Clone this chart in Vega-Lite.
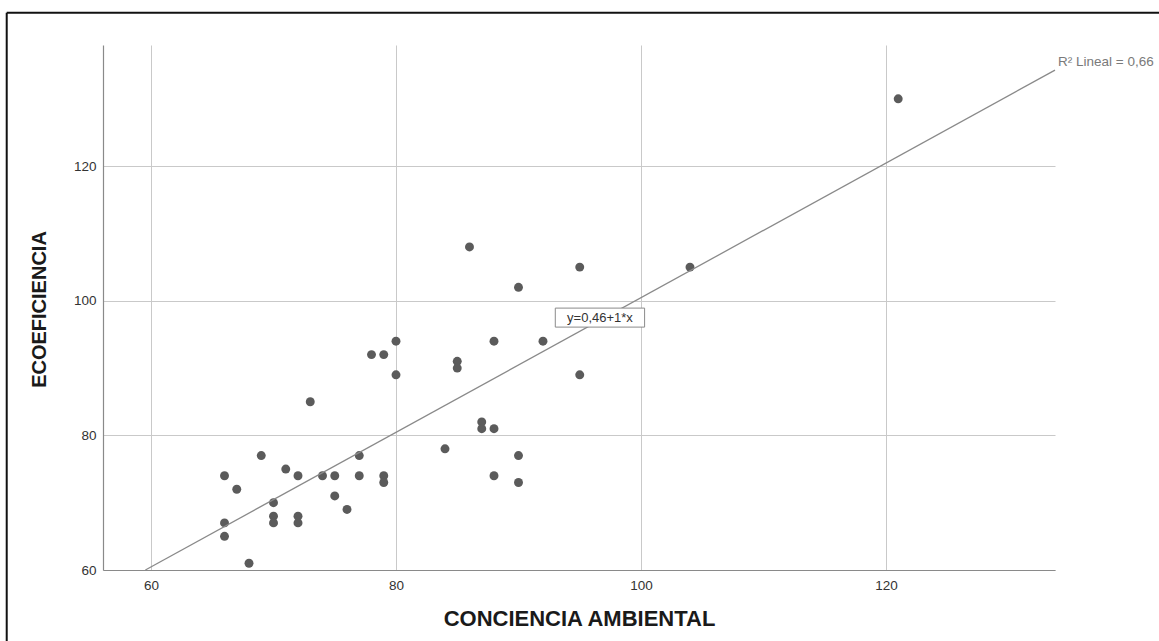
{
  "$schema": "https://vega.github.io/schema/vega-lite/v6.json",
  "width": 952,
  "height": 525,
  "autosize": {"type": "none"},
  "padding": {"left": 103, "top": 45, "right": 104, "bottom": 71},
  "background": "white",
  "config": {
    "view": {"stroke": null},
    "font": "Liberation Sans"
  },
  "datasets": {
    "muestra": [
      {"conciencia": 66, "ecoeficiencia": 74},
      {"conciencia": 66, "ecoeficiencia": 67},
      {"conciencia": 66, "ecoeficiencia": 65},
      {"conciencia": 67, "ecoeficiencia": 72},
      {"conciencia": 68, "ecoeficiencia": 61},
      {"conciencia": 69, "ecoeficiencia": 77},
      {"conciencia": 70, "ecoeficiencia": 70},
      {"conciencia": 70, "ecoeficiencia": 68},
      {"conciencia": 70, "ecoeficiencia": 67},
      {"conciencia": 71, "ecoeficiencia": 75},
      {"conciencia": 72, "ecoeficiencia": 74},
      {"conciencia": 72, "ecoeficiencia": 68},
      {"conciencia": 72, "ecoeficiencia": 67},
      {"conciencia": 73, "ecoeficiencia": 85},
      {"conciencia": 74, "ecoeficiencia": 74},
      {"conciencia": 75, "ecoeficiencia": 74},
      {"conciencia": 75, "ecoeficiencia": 71},
      {"conciencia": 76, "ecoeficiencia": 69},
      {"conciencia": 77, "ecoeficiencia": 77},
      {"conciencia": 77, "ecoeficiencia": 74},
      {"conciencia": 78, "ecoeficiencia": 92},
      {"conciencia": 79, "ecoeficiencia": 92},
      {"conciencia": 79, "ecoeficiencia": 74},
      {"conciencia": 79, "ecoeficiencia": 73},
      {"conciencia": 80, "ecoeficiencia": 94},
      {"conciencia": 80, "ecoeficiencia": 89},
      {"conciencia": 84, "ecoeficiencia": 78},
      {"conciencia": 85, "ecoeficiencia": 91},
      {"conciencia": 85, "ecoeficiencia": 90},
      {"conciencia": 86, "ecoeficiencia": 108},
      {"conciencia": 87, "ecoeficiencia": 82},
      {"conciencia": 87, "ecoeficiencia": 81},
      {"conciencia": 88, "ecoeficiencia": 94},
      {"conciencia": 88, "ecoeficiencia": 81},
      {"conciencia": 88, "ecoeficiencia": 74},
      {"conciencia": 90, "ecoeficiencia": 102},
      {"conciencia": 90, "ecoeficiencia": 77},
      {"conciencia": 90, "ecoeficiencia": 73},
      {"conciencia": 92, "ecoeficiencia": 94},
      {"conciencia": 95, "ecoeficiencia": 105},
      {"conciencia": 95, "ecoeficiencia": 89},
      {"conciencia": 104, "ecoeficiencia": 105},
      {"conciencia": 121, "ecoeficiencia": 130}
    ],
    "ajuste": [
      {"conciencia": 59.54, "ecoeficiencia": 60},
      {"conciencia": 133.8, "ecoeficiencia": 134.26}
    ],
    "ecuacion": [
      {"conciencia": 96.65, "ecoeficiencia": 97.5, "texto": "y=0,46+1*x"}
    ],
    "r2": [
      {"conciencia": 133.8, "ecoeficiencia": 134.26, "texto": "R² Lineal = 0,66"}
    ]
  },
  "layer": [
    {
      "data": {"name": "muestra"},
      "mark": {"type": "circle", "size": 80, "color": "#5b5b5b", "opacity": 1},
      "encoding": {
        "x": {
          "field": "conciencia",
          "type": "quantitative",
          "scale": {"domain": [56.08, 133.8], "nice": false, "zero": false},
          "axis": {
            "values": [60, 80, 100, 120],
            "grid": true,
            "gridColor": "#c9c9c9",
            "gridWidth": 1,
            "ticks": false,
            "domainColor": "#8a8a8a",
            "domainWidth": 1.2,
            "labelFontSize": 13.5,
            "labelColor": "#333333",
            "labelPadding": 8,
            "title": "CONCIENCIA AMBIENTAL",
            "titleFontSize": 22,
            "titleFontWeight": "bold",
            "titleColor": "#1a1a1a",
            "titlePadding": 17
          }
        },
        "y": {
          "field": "ecoeficiencia",
          "type": "quantitative",
          "scale": {"domain": [60, 138], "nice": false, "zero": false},
          "axis": {
            "values": [60, 80, 100, 120],
            "grid": true,
            "gridColor": "#c9c9c9",
            "gridWidth": 1,
            "ticks": false,
            "domainColor": "#8a8a8a",
            "domainWidth": 1.2,
            "labelFontSize": 13.5,
            "labelColor": "#333333",
            "labelPadding": 7,
            "title": "ECOEFICIENCIA",
            "titleFontSize": 20,
            "titleFontWeight": "bold",
            "titleColor": "#1a1a1a",
            "titleX": -64,
            "titleY": 264,
            "titleAngle": -90,
            "titleAlign": "center",
            "titleBaseline": "middle"
          }
        }
      }
    },
    {
      "data": {"name": "ajuste"},
      "mark": {"type": "line", "color": "#8a8a8a", "strokeWidth": 1.3},
      "encoding": {
        "x": {"field": "conciencia", "type": "quantitative"},
        "y": {"field": "ecoeficiencia", "type": "quantitative"}
      }
    },
    {
      "data": {"name": "ecuacion"},
      "mark": {
        "type": "point",
        "shape": "M-4.7,-1H4.7V1H-4.7Z",
        "size": 361,
        "filled": true,
        "fill": "white",
        "stroke": "#8a8a8a",
        "strokeWidth": 1,
        "opacity": 1
      },
      "encoding": {
        "x": {"field": "conciencia", "type": "quantitative"},
        "y": {"field": "ecoeficiencia", "type": "quantitative"}
      }
    },
    {
      "data": {"name": "ecuacion"},
      "mark": {"type": "text", "fontSize": 13, "color": "#333333", "align": "center", "baseline": "middle"},
      "encoding": {
        "x": {"field": "conciencia", "type": "quantitative"},
        "y": {"field": "ecoeficiencia", "type": "quantitative"},
        "text": {"field": "texto"}
      }
    },
    {
      "data": {"name": "r2"},
      "mark": {"type": "text", "fontSize": 13.5, "color": "#7a7a7a", "align": "left", "baseline": "middle", "dx": 3, "dy": -8},
      "encoding": {
        "x": {"field": "conciencia", "type": "quantitative"},
        "y": {"field": "ecoeficiencia", "type": "quantitative"},
        "text": {"field": "texto"}
      }
    },
    {
      "data": {"values": [{}]},
      "mark": {"type": "rule", "color": "#111111", "strokeWidth": 2},
      "encoding": {
        "x": {"datum": 48.22, "type": "quantitative"},
        "y": {"datum": 142.8, "type": "quantitative"},
        "y2": {"datum": 40}
      }
    },
    {
      "data": {"values": [{}]},
      "mark": {"type": "rule", "color": "#111111", "strokeWidth": 2},
      "encoding": {
        "y": {"datum": 142.8, "type": "quantitative"},
        "x": {"datum": 48.22, "type": "quantitative"},
        "x2": {"datum": 150}
      }
    }
  ]
}
